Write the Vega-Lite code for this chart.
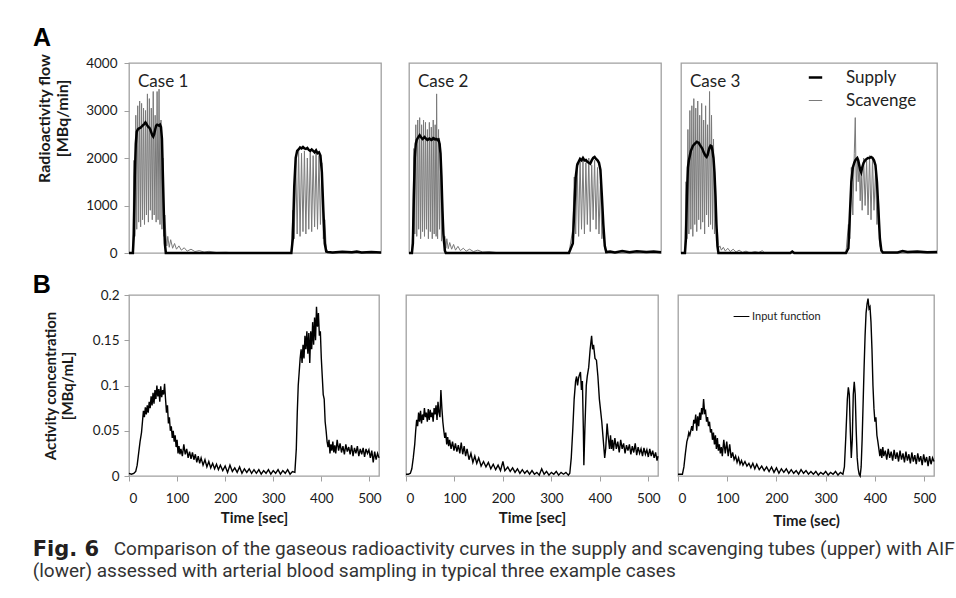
{
"$schema": "https://vega.github.io/schema/vega-lite/v6.json",
"background": "white",
"padding": {"left": 32, "top": 25, "right": 5, "bottom": 5},
"datasets": {
"top1": [{"t":0,"Supply":0,"Scavenge":0},{"t":8,"Supply":0,"Scavenge":0},{"t":10,"Supply":400,"Scavenge":1950},{"t":12,"Supply":1600,"Scavenge":350},{"t":14,"Supply":2300,"Scavenge":2900},{"t":16,"Supply":2550,"Scavenge":500},{"t":18,"Supply":2600,"Scavenge":3100},{"t":20,"Supply":2620,"Scavenge":650},{"t":22,"Supply":2630,"Scavenge":3200},{"t":24,"Supply":2640,"Scavenge":550},{"t":26,"Supply":2660,"Scavenge":3150},{"t":28,"Supply":2680,"Scavenge":700},{"t":30,"Supply":2700,"Scavenge":3050},{"t":32,"Supply":2720,"Scavenge":600},{"t":34,"Supply":2750,"Scavenge":3000},{"t":36,"Supply":2720,"Scavenge":800},{"t":38,"Supply":2680,"Scavenge":3350},{"t":40,"Supply":2650,"Scavenge":650},{"t":42,"Supply":2640,"Scavenge":3250},{"t":44,"Supply":2600,"Scavenge":900},{"t":46,"Supply":2540,"Scavenge":3050},{"t":48,"Supply":2480,"Scavenge":700},{"t":50,"Supply":2450,"Scavenge":3400},{"t":52,"Supply":2500,"Scavenge":800},{"t":54,"Supply":2600,"Scavenge":2900},{"t":56,"Supply":2680,"Scavenge":650},{"t":58,"Supply":2700,"Scavenge":3400},{"t":60,"Supply":2690,"Scavenge":700},{"t":62,"Supply":2680,"Scavenge":3450},{"t":64,"Supply":2700,"Scavenge":600},{"t":66,"Supply":2650,"Scavenge":2800},{"t":68,"Supply":2400,"Scavenge":500},{"t":70,"Supply":1600,"Scavenge":2000},{"t":72,"Supply":800,"Scavenge":350},{"t":74,"Supply":200,"Scavenge":800},{"t":76,"Supply":0,"Scavenge":400},{"t":78,"Supply":0,"Scavenge":150},{"t":80,"Supply":0,"Scavenge":350},{"t":83,"Supply":0,"Scavenge":120},{"t":86,"Supply":0,"Scavenge":280},{"t":90,"Supply":0,"Scavenge":100},{"t":94,"Supply":0,"Scavenge":200},{"t":98,"Supply":0,"Scavenge":80},{"t":103,"Supply":0,"Scavenge":150},{"t":108,"Supply":0,"Scavenge":60},{"t":114,"Supply":0,"Scavenge":110},{"t":120,"Supply":0,"Scavenge":40},{"t":128,"Supply":0,"Scavenge":80},{"t":136,"Supply":0,"Scavenge":30},{"t":145,"Supply":0,"Scavenge":50},{"t":155,"Supply":0,"Scavenge":20},{"t":165,"Supply":0,"Scavenge":35},{"t":180,"Supply":0,"Scavenge":10},{"t":200,"Supply":0,"Scavenge":15},{"t":220,"Supply":0,"Scavenge":0},{"t":335,"Supply":0,"Scavenge":0},{"t":338,"Supply":300,"Scavenge":900},{"t":341,"Supply":1400,"Scavenge":300},{"t":344,"Supply":2000,"Scavenge":2000},{"t":347,"Supply":2150,"Scavenge":400},{"t":350,"Supply":2180,"Scavenge":2150},{"t":353,"Supply":2220,"Scavenge":350},{"t":356,"Supply":2200,"Scavenge":2100},{"t":359,"Supply":2230,"Scavenge":450},{"t":362,"Supply":2200,"Scavenge":2150},{"t":365,"Supply":2190,"Scavenge":400},{"t":368,"Supply":2210,"Scavenge":2000},{"t":371,"Supply":2170,"Scavenge":500},{"t":374,"Supply":2150,"Scavenge":2150},{"t":377,"Supply":2180,"Scavenge":450},{"t":380,"Supply":2150,"Scavenge":2050},{"t":383,"Supply":2120,"Scavenge":550},{"t":386,"Supply":2160,"Scavenge":2100},{"t":389,"Supply":2100,"Scavenge":500},{"t":392,"Supply":2120,"Scavenge":2050},{"t":395,"Supply":2050,"Scavenge":600},{"t":398,"Supply":1700,"Scavenge":1900},{"t":401,"Supply":900,"Scavenge":300},{"t":404,"Supply":200,"Scavenge":700},{"t":407,"Supply":30,"Scavenge":100},{"t":410,"Supply":20,"Scavenge":20},{"t":420,"Supply":10,"Scavenge":0},{"t":440,"Supply":25,"Scavenge":5},{"t":460,"Supply":15,"Scavenge":0},{"t":470,"Supply":30,"Scavenge":0},{"t":480,"Supply":10,"Scavenge":0},{"t":500,"Supply":20,"Scavenge":0},{"t":520,"Supply":10,"Scavenge":0}],
"top2": [{"t":0,"Supply":0,"Scavenge":0},{"t":6,"Supply":0,"Scavenge":0},{"t":8,"Supply":200,"Scavenge":600},{"t":10,"Supply":1200,"Scavenge":2200},{"t":12,"Supply":2000,"Scavenge":400},{"t":14,"Supply":2300,"Scavenge":2700},{"t":16,"Supply":2380,"Scavenge":350},{"t":18,"Supply":2420,"Scavenge":2800},{"t":20,"Supply":2450,"Scavenge":500},{"t":22,"Supply":2480,"Scavenge":2850},{"t":24,"Supply":2450,"Scavenge":300},{"t":26,"Supply":2420,"Scavenge":2700},{"t":28,"Supply":2400,"Scavenge":450},{"t":30,"Supply":2420,"Scavenge":2800},{"t":32,"Supply":2440,"Scavenge":350},{"t":34,"Supply":2420,"Scavenge":2750},{"t":36,"Supply":2400,"Scavenge":500},{"t":38,"Supply":2380,"Scavenge":2600},{"t":40,"Supply":2390,"Scavenge":300},{"t":42,"Supply":2410,"Scavenge":2750},{"t":44,"Supply":2400,"Scavenge":450},{"t":46,"Supply":2380,"Scavenge":2650},{"t":48,"Supply":2390,"Scavenge":300},{"t":50,"Supply":2420,"Scavenge":2800},{"t":52,"Supply":2410,"Scavenge":400},{"t":54,"Supply":2390,"Scavenge":2700},{"t":56,"Supply":2400,"Scavenge":350},{"t":57,"Supply":2400,"Scavenge":3350},{"t":59,"Supply":2380,"Scavenge":300},{"t":61,"Supply":2390,"Scavenge":2600},{"t":63,"Supply":2300,"Scavenge":500},{"t":65,"Supply":2100,"Scavenge":2300},{"t":67,"Supply":1600,"Scavenge":250},{"t":69,"Supply":900,"Scavenge":1200},{"t":71,"Supply":400,"Scavenge":200},{"t":74,"Supply":50,"Scavenge":350},{"t":76,"Supply":0,"Scavenge":100},{"t":78,"Supply":0,"Scavenge":300},{"t":81,"Supply":0,"Scavenge":90},{"t":84,"Supply":0,"Scavenge":220},{"t":88,"Supply":0,"Scavenge":80},{"t":92,"Supply":0,"Scavenge":180},{"t":96,"Supply":0,"Scavenge":60},{"t":101,"Supply":0,"Scavenge":140},{"t":106,"Supply":0,"Scavenge":50},{"t":112,"Supply":0,"Scavenge":100},{"t":118,"Supply":0,"Scavenge":40},{"t":125,"Supply":0,"Scavenge":80},{"t":133,"Supply":0,"Scavenge":30},{"t":142,"Supply":0,"Scavenge":60},{"t":152,"Supply":0,"Scavenge":20},{"t":165,"Supply":0,"Scavenge":30},{"t":180,"Supply":0,"Scavenge":10},{"t":200,"Supply":0,"Scavenge":0},{"t":330,"Supply":0,"Scavenge":0},{"t":338,"Supply":200,"Scavenge":500},{"t":341,"Supply":900,"Scavenge":1600},{"t":344,"Supply":1600,"Scavenge":400},{"t":347,"Supply":1850,"Scavenge":1900},{"t":350,"Supply":1920,"Scavenge":350},{"t":353,"Supply":1980,"Scavenge":2000},{"t":356,"Supply":1950,"Scavenge":500},{"t":359,"Supply":2000,"Scavenge":1950},{"t":362,"Supply":1950,"Scavenge":400},{"t":365,"Supply":1960,"Scavenge":1900},{"t":368,"Supply":1920,"Scavenge":600},{"t":371,"Supply":1900,"Scavenge":2000},{"t":374,"Supply":1880,"Scavenge":450},{"t":377,"Supply":1950,"Scavenge":1850},{"t":380,"Supply":2000,"Scavenge":700},{"t":383,"Supply":2020,"Scavenge":1950},{"t":386,"Supply":1980,"Scavenge":500},{"t":389,"Supply":1950,"Scavenge":1800},{"t":392,"Supply":1900,"Scavenge":400},{"t":395,"Supply":1750,"Scavenge":1500},{"t":398,"Supply":1200,"Scavenge":300},{"t":401,"Supply":600,"Scavenge":600},{"t":404,"Supply":150,"Scavenge":100},{"t":407,"Supply":20,"Scavenge":0},{"t":415,"Supply":30,"Scavenge":0},{"t":425,"Supply":10,"Scavenge":0},{"t":440,"Supply":40,"Scavenge":0},{"t":455,"Supply":15,"Scavenge":0},{"t":470,"Supply":35,"Scavenge":0},{"t":490,"Supply":20,"Scavenge":0},{"t":505,"Supply":30,"Scavenge":0},{"t":520,"Supply":15,"Scavenge":0}],
"top3": [{"t":0,"Supply":0,"Scavenge":0},{"t":8,"Supply":0,"Scavenge":0},{"t":10,"Supply":300,"Scavenge":1500},{"t":12,"Supply":1200,"Scavenge":300},{"t":14,"Supply":1800,"Scavenge":2600},{"t":16,"Supply":1950,"Scavenge":400},{"t":18,"Supply":2050,"Scavenge":3000},{"t":20,"Supply":2150,"Scavenge":500},{"t":22,"Supply":2200,"Scavenge":3100},{"t":24,"Supply":2250,"Scavenge":350},{"t":26,"Supply":2280,"Scavenge":3250},{"t":28,"Supply":2300,"Scavenge":600},{"t":30,"Supply":2320,"Scavenge":3050},{"t":32,"Supply":2340,"Scavenge":450},{"t":34,"Supply":2330,"Scavenge":3200},{"t":36,"Supply":2320,"Scavenge":700},{"t":38,"Supply":2280,"Scavenge":2900},{"t":40,"Supply":2250,"Scavenge":500},{"t":42,"Supply":2220,"Scavenge":3150},{"t":44,"Supply":2180,"Scavenge":650},{"t":46,"Supply":2120,"Scavenge":2800},{"t":48,"Supply":2080,"Scavenge":400},{"t":50,"Supply":2040,"Scavenge":3100},{"t":52,"Supply":2020,"Scavenge":800},{"t":54,"Supply":2060,"Scavenge":2700},{"t":56,"Supply":2150,"Scavenge":550},{"t":58,"Supply":2220,"Scavenge":3400},{"t":60,"Supply":2260,"Scavenge":600},{"t":62,"Supply":2250,"Scavenge":2900},{"t":64,"Supply":2150,"Scavenge":500},{"t":66,"Supply":2000,"Scavenge":2400},{"t":68,"Supply":1700,"Scavenge":400},{"t":70,"Supply":1200,"Scavenge":1500},{"t":72,"Supply":600,"Scavenge":250},{"t":74,"Supply":150,"Scavenge":500},{"t":76,"Supply":0,"Scavenge":100},{"t":79,"Supply":0,"Scavenge":150},{"t":82,"Supply":0,"Scavenge":60},{"t":86,"Supply":0,"Scavenge":120},{"t":90,"Supply":0,"Scavenge":40},{"t":95,"Supply":0,"Scavenge":100},{"t":100,"Supply":0,"Scavenge":30},{"t":106,"Supply":0,"Scavenge":80},{"t":112,"Supply":0,"Scavenge":20},{"t":118,"Supply":0,"Scavenge":60},{"t":125,"Supply":0,"Scavenge":10},{"t":132,"Supply":0,"Scavenge":40},{"t":140,"Supply":0,"Scavenge":0},{"t":150,"Supply":0,"Scavenge":30},{"t":158,"Supply":0,"Scavenge":10},{"t":165,"Supply":0,"Scavenge":50},{"t":170,"Supply":0,"Scavenge":0},{"t":222,"Supply":0,"Scavenge":0},{"t":226,"Supply":30,"Scavenge":20},{"t":230,"Supply":0,"Scavenge":0},{"t":335,"Supply":0,"Scavenge":0},{"t":340,"Supply":100,"Scavenge":600},{"t":343,"Supply":800,"Scavenge":300},{"t":346,"Supply":1500,"Scavenge":1800},{"t":349,"Supply":1800,"Scavenge":800},{"t":352,"Supply":1900,"Scavenge":2100},{"t":354,"Supply":1950,"Scavenge":2850},{"t":356,"Supply":1980,"Scavenge":1300},{"t":358,"Supply":2000,"Scavenge":2000},{"t":360,"Supply":1950,"Scavenge":1500},{"t":362,"Supply":1850,"Scavenge":1900},{"t":364,"Supply":1750,"Scavenge":1100},{"t":366,"Supply":1700,"Scavenge":1800},{"t":368,"Supply":1800,"Scavenge":900},{"t":371,"Supply":1900,"Scavenge":2000},{"t":374,"Supply":1950,"Scavenge":1000},{"t":377,"Supply":1980,"Scavenge":1950},{"t":380,"Supply":2000,"Scavenge":800},{"t":383,"Supply":2000,"Scavenge":2050},{"t":386,"Supply":2020,"Scavenge":700},{"t":389,"Supply":2000,"Scavenge":2000},{"t":392,"Supply":1950,"Scavenge":900},{"t":395,"Supply":1850,"Scavenge":1700},{"t":398,"Supply":1500,"Scavenge":600},{"t":401,"Supply":900,"Scavenge":1200},{"t":404,"Supply":300,"Scavenge":150},{"t":407,"Supply":50,"Scavenge":50},{"t":410,"Supply":10,"Scavenge":0},{"t":440,"Supply":10,"Scavenge":0},{"t":450,"Supply":40,"Scavenge":0},{"t":460,"Supply":20,"Scavenge":0},{"t":480,"Supply":30,"Scavenge":0},{"t":500,"Supply":15,"Scavenge":0},{"t":520,"Supply":20,"Scavenge":0}],
"b1": [{"t":0,"v":0.003},{"t":5,"v":0.002},{"t":10,"v":0.003},{"t":14,"v":0.005},{"t":17,"v":0.012},{"t":20,"v":0.025},{"t":23,"v":0.038},{"t":26,"v":0.048},{"t":28,"v":0.06},{"t":30,"v":0.072},{"t":32,"v":0.065},{"t":34,"v":0.076},{"t":36,"v":0.068},{"t":38,"v":0.078},{"t":40,"v":0.07},{"t":42,"v":0.082},{"t":44,"v":0.075},{"t":46,"v":0.088},{"t":48,"v":0.078},{"t":50,"v":0.092},{"t":52,"v":0.08},{"t":54,"v":0.095},{"t":56,"v":0.085},{"t":58,"v":0.1},{"t":60,"v":0.088},{"t":62,"v":0.096},{"t":64,"v":0.082},{"t":66,"v":0.099},{"t":68,"v":0.087},{"t":70,"v":0.095},{"t":72,"v":0.09},{"t":74,"v":0.102},{"t":76,"v":0.085},{"t":78,"v":0.07},{"t":80,"v":0.078},{"t":82,"v":0.058},{"t":84,"v":0.065},{"t":86,"v":0.05},{"t":88,"v":0.055},{"t":90,"v":0.042},{"t":92,"v":0.05},{"t":94,"v":0.038},{"t":96,"v":0.045},{"t":98,"v":0.032},{"t":100,"v":0.04},{"t":102,"v":0.025},{"t":104,"v":0.033},{"t":106,"v":0.024},{"t":108,"v":0.03},{"t":111,"v":0.022},{"t":114,"v":0.035},{"t":117,"v":0.024},{"t":120,"v":0.03},{"t":123,"v":0.02},{"t":126,"v":0.027},{"t":129,"v":0.019},{"t":132,"v":0.026},{"t":135,"v":0.018},{"t":138,"v":0.024},{"t":141,"v":0.015},{"t":144,"v":0.022},{"t":147,"v":0.014},{"t":150,"v":0.02},{"t":154,"v":0.012},{"t":158,"v":0.018},{"t":162,"v":0.01},{"t":166,"v":0.016},{"t":170,"v":0.009},{"t":174,"v":0.014},{"t":178,"v":0.008},{"t":182,"v":0.013},{"t":186,"v":0.007},{"t":190,"v":0.012},{"t":195,"v":0.006},{"t":200,"v":0.011},{"t":205,"v":0.004},{"t":210,"v":0.012},{"t":215,"v":0.005},{"t":220,"v":0.009},{"t":225,"v":0.004},{"t":230,"v":0.01},{"t":235,"v":0.003},{"t":240,"v":0.008},{"t":245,"v":0.004},{"t":250,"v":0.008},{"t":255,"v":0.003},{"t":260,"v":0.007},{"t":265,"v":0.003},{"t":270,"v":0.007},{"t":275,"v":0.002},{"t":280,"v":0.006},{"t":285,"v":0.003},{"t":290,"v":0.007},{"t":295,"v":0.002},{"t":300,"v":0.006},{"t":305,"v":0.003},{"t":310,"v":0.007},{"t":315,"v":0.002},{"t":320,"v":0.006},{"t":325,"v":0.003},{"t":330,"v":0.007},{"t":335,"v":0.002},{"t":340,"v":0.005},{"t":345,"v":0.004},{"t":348,"v":0.03},{"t":350,"v":0.07},{"t":352,"v":0.1},{"t":354,"v":0.115},{"t":356,"v":0.13},{"t":358,"v":0.14},{"t":360,"v":0.125},{"t":362,"v":0.145},{"t":364,"v":0.13},{"t":366,"v":0.155},{"t":368,"v":0.14},{"t":370,"v":0.16},{"t":372,"v":0.135},{"t":374,"v":0.158},{"t":376,"v":0.125},{"t":378,"v":0.16},{"t":380,"v":0.14},{"t":382,"v":0.17},{"t":384,"v":0.145},{"t":386,"v":0.175},{"t":388,"v":0.15},{"t":390,"v":0.187},{"t":392,"v":0.165},{"t":394,"v":0.18},{"t":396,"v":0.155},{"t":398,"v":0.16},{"t":400,"v":0.13},{"t":402,"v":0.11},{"t":404,"v":0.09},{"t":406,"v":0.085},{"t":408,"v":0.06},{"t":410,"v":0.05},{"t":412,"v":0.038},{"t":414,"v":0.032},{"t":416,"v":0.04},{"t":418,"v":0.025},{"t":420,"v":0.035},{"t":422,"v":0.028},{"t":424,"v":0.038},{"t":426,"v":0.026},{"t":428,"v":0.034},{"t":430,"v":0.025},{"t":433,"v":0.04},{"t":436,"v":0.028},{"t":439,"v":0.036},{"t":442,"v":0.026},{"t":445,"v":0.033},{"t":448,"v":0.024},{"t":451,"v":0.035},{"t":454,"v":0.027},{"t":457,"v":0.032},{"t":460,"v":0.024},{"t":463,"v":0.034},{"t":466,"v":0.022},{"t":469,"v":0.031},{"t":472,"v":0.025},{"t":475,"v":0.033},{"t":478,"v":0.022},{"t":481,"v":0.03},{"t":484,"v":0.024},{"t":487,"v":0.031},{"t":490,"v":0.021},{"t":493,"v":0.03},{"t":496,"v":0.025},{"t":499,"v":0.029},{"t":502,"v":0.02},{"t":505,"v":0.028},{"t":508,"v":0.015},{"t":511,"v":0.027},{"t":514,"v":0.018},{"t":517,"v":0.025},{"t":520,"v":0.02}],
"b2": [{"t":0,"v":0.002},{"t":5,"v":0.002},{"t":9,"v":0.003},{"t":12,"v":0.008},{"t":15,"v":0.02},{"t":18,"v":0.035},{"t":20,"v":0.05},{"t":22,"v":0.062},{"t":24,"v":0.055},{"t":26,"v":0.07},{"t":28,"v":0.06},{"t":30,"v":0.072},{"t":32,"v":0.058},{"t":34,"v":0.068},{"t":36,"v":0.062},{"t":38,"v":0.075},{"t":40,"v":0.065},{"t":42,"v":0.07},{"t":44,"v":0.06},{"t":46,"v":0.074},{"t":48,"v":0.062},{"t":50,"v":0.073},{"t":52,"v":0.065},{"t":54,"v":0.07},{"t":56,"v":0.06},{"t":58,"v":0.075},{"t":60,"v":0.068},{"t":62,"v":0.078},{"t":64,"v":0.062},{"t":66,"v":0.082},{"t":68,"v":0.07},{"t":70,"v":0.065},{"t":72,"v":0.095},{"t":74,"v":0.075},{"t":76,"v":0.06},{"t":78,"v":0.05},{"t":80,"v":0.042},{"t":82,"v":0.048},{"t":84,"v":0.035},{"t":86,"v":0.043},{"t":88,"v":0.033},{"t":90,"v":0.04},{"t":93,"v":0.03},{"t":96,"v":0.038},{"t":99,"v":0.028},{"t":102,"v":0.036},{"t":105,"v":0.027},{"t":108,"v":0.034},{"t":111,"v":0.025},{"t":114,"v":0.037},{"t":117,"v":0.024},{"t":120,"v":0.033},{"t":123,"v":0.022},{"t":126,"v":0.03},{"t":130,"v":0.018},{"t":134,"v":0.025},{"t":138,"v":0.015},{"t":142,"v":0.022},{"t":146,"v":0.014},{"t":150,"v":0.02},{"t":155,"v":0.011},{"t":160,"v":0.016},{"t":165,"v":0.01},{"t":170,"v":0.015},{"t":175,"v":0.008},{"t":180,"v":0.013},{"t":185,"v":0.007},{"t":190,"v":0.012},{"t":195,"v":0.006},{"t":200,"v":0.016},{"t":204,"v":0.006},{"t":210,"v":0.01},{"t":215,"v":0.005},{"t":220,"v":0.009},{"t":225,"v":0.004},{"t":230,"v":0.008},{"t":235,"v":0.003},{"t":240,"v":0.007},{"t":245,"v":0.003},{"t":250,"v":0.006},{"t":255,"v":0.002},{"t":260,"v":0.006},{"t":265,"v":0.002},{"t":270,"v":0.004},{"t":275,"v":0.001},{"t":280,"v":0.008},{"t":285,"v":0.002},{"t":290,"v":0.005},{"t":295,"v":0.001},{"t":300,"v":0.004},{"t":305,"v":0.002},{"t":310,"v":0.005},{"t":315,"v":0.001},{"t":320,"v":0.004},{"t":325,"v":0.002},{"t":330,"v":0.004},{"t":335,"v":0.001},{"t":338,"v":0.003},{"t":341,"v":0.02},{"t":344,"v":0.05},{"t":347,"v":0.085},{"t":350,"v":0.105},{"t":352,"v":0.11},{"t":354,"v":0.1},{"t":356,"v":0.108},{"t":358,"v":0.112},{"t":360,"v":0.115},{"t":362,"v":0.095},{"t":364,"v":0.105},{"t":366,"v":0.05},{"t":367,"v":0.012},{"t":369,"v":0.05},{"t":372,"v":0.1},{"t":374,"v":0.11},{"t":377,"v":0.12},{"t":380,"v":0.14},{"t":383,"v":0.155},{"t":385,"v":0.14},{"t":387,"v":0.145},{"t":390,"v":0.13},{"t":393,"v":0.128},{"t":396,"v":0.11},{"t":399,"v":0.085},{"t":402,"v":0.07},{"t":404,"v":0.06},{"t":407,"v":0.04},{"t":410,"v":0.02},{"t":412,"v":0.03},{"t":415,"v":0.058},{"t":417,"v":0.045},{"t":420,"v":0.03},{"t":422,"v":0.045},{"t":424,"v":0.03},{"t":426,"v":0.04},{"t":428,"v":0.028},{"t":431,"v":0.042},{"t":434,"v":0.03},{"t":437,"v":0.038},{"t":440,"v":0.026},{"t":443,"v":0.04},{"t":446,"v":0.03},{"t":449,"v":0.036},{"t":452,"v":0.025},{"t":455,"v":0.034},{"t":458,"v":0.028},{"t":461,"v":0.035},{"t":464,"v":0.024},{"t":467,"v":0.033},{"t":470,"v":0.026},{"t":473,"v":0.036},{"t":476,"v":0.023},{"t":479,"v":0.032},{"t":482,"v":0.025},{"t":485,"v":0.03},{"t":488,"v":0.022},{"t":491,"v":0.031},{"t":494,"v":0.024},{"t":497,"v":0.029},{"t":500,"v":0.021},{"t":503,"v":0.03},{"t":506,"v":0.022},{"t":509,"v":0.028},{"t":512,"v":0.02},{"t":515,"v":0.026},{"t":518,"v":0.017},{"t":520,"v":0.022}],
"b3": [{"t":0,"v":0.002},{"t":5,"v":0.002},{"t":9,"v":0.002},{"t":12,"v":0.01},{"t":15,"v":0.025},{"t":18,"v":0.038},{"t":20,"v":0.042},{"t":22,"v":0.048},{"t":24,"v":0.045},{"t":26,"v":0.05},{"t":28,"v":0.055},{"t":30,"v":0.05},{"t":32,"v":0.062},{"t":34,"v":0.058},{"t":36,"v":0.068},{"t":38,"v":0.05},{"t":40,"v":0.066},{"t":42,"v":0.055},{"t":44,"v":0.07},{"t":46,"v":0.062},{"t":48,"v":0.075},{"t":50,"v":0.068},{"t":52,"v":0.085},{"t":54,"v":0.07},{"t":56,"v":0.072},{"t":58,"v":0.06},{"t":60,"v":0.065},{"t":62,"v":0.055},{"t":64,"v":0.06},{"t":66,"v":0.048},{"t":68,"v":0.052},{"t":70,"v":0.04},{"t":72,"v":0.048},{"t":74,"v":0.035},{"t":76,"v":0.045},{"t":78,"v":0.03},{"t":80,"v":0.042},{"t":82,"v":0.028},{"t":84,"v":0.035},{"t":86,"v":0.025},{"t":88,"v":0.032},{"t":90,"v":0.022},{"t":93,"v":0.04},{"t":96,"v":0.025},{"t":99,"v":0.038},{"t":102,"v":0.022},{"t":105,"v":0.035},{"t":108,"v":0.02},{"t":111,"v":0.026},{"t":114,"v":0.018},{"t":117,"v":0.022},{"t":120,"v":0.015},{"t":123,"v":0.02},{"t":126,"v":0.013},{"t":129,"v":0.017},{"t":132,"v":0.012},{"t":136,"v":0.016},{"t":140,"v":0.011},{"t":144,"v":0.014},{"t":148,"v":0.009},{"t":152,"v":0.014},{"t":156,"v":0.008},{"t":160,"v":0.013},{"t":165,"v":0.007},{"t":170,"v":0.011},{"t":175,"v":0.006},{"t":180,"v":0.01},{"t":185,"v":0.005},{"t":190,"v":0.01},{"t":195,"v":0.004},{"t":200,"v":0.009},{"t":205,"v":0.003},{"t":210,"v":0.008},{"t":215,"v":0.004},{"t":220,"v":0.008},{"t":225,"v":0.003},{"t":230,"v":0.007},{"t":235,"v":0.003},{"t":240,"v":0.006},{"t":245,"v":0.002},{"t":250,"v":0.007},{"t":255,"v":0.003},{"t":260,"v":0.006},{"t":265,"v":0.002},{"t":270,"v":0.005},{"t":275,"v":0.002},{"t":280,"v":0.005},{"t":285,"v":0.001},{"t":290,"v":0.004},{"t":295,"v":0.002},{"t":300,"v":0.005},{"t":305,"v":0.001},{"t":310,"v":0.004},{"t":315,"v":0.002},{"t":320,"v":0.005},{"t":325,"v":0.001},{"t":330,"v":0.004},{"t":335,"v":0.002},{"t":338,"v":0.01},{"t":341,"v":0.045},{"t":344,"v":0.085},{"t":346,"v":0.098},{"t":348,"v":0.09},{"t":350,"v":0.05},{"t":352,"v":0.02},{"t":354,"v":0.04},{"t":356,"v":0.09},{"t":358,"v":0.104},{"t":360,"v":0.09},{"t":362,"v":0.05},{"t":364,"v":0.02},{"t":366,"v":0.008},{"t":368,"v":0.002},{"t":370,"v":0.0},{"t":372,"v":0.01},{"t":374,"v":0.04},{"t":376,"v":0.08},{"t":378,"v":0.12},{"t":380,"v":0.155},{"t":382,"v":0.18},{"t":384,"v":0.19},{"t":386,"v":0.196},{"t":388,"v":0.185},{"t":390,"v":0.187},{"t":392,"v":0.17},{"t":394,"v":0.14},{"t":396,"v":0.1},{"t":398,"v":0.075},{"t":400,"v":0.06},{"t":402,"v":0.065},{"t":404,"v":0.045},{"t":406,"v":0.038},{"t":408,"v":0.03},{"t":410,"v":0.022},{"t":412,"v":0.03},{"t":414,"v":0.02},{"t":416,"v":0.032},{"t":418,"v":0.022},{"t":421,"v":0.028},{"t":424,"v":0.018},{"t":427,"v":0.03},{"t":430,"v":0.02},{"t":433,"v":0.027},{"t":436,"v":0.017},{"t":439,"v":0.029},{"t":442,"v":0.019},{"t":445,"v":0.026},{"t":448,"v":0.016},{"t":451,"v":0.028},{"t":454,"v":0.018},{"t":457,"v":0.025},{"t":460,"v":0.015},{"t":463,"v":0.027},{"t":466,"v":0.017},{"t":469,"v":0.024},{"t":472,"v":0.014},{"t":475,"v":0.026},{"t":478,"v":0.016},{"t":481,"v":0.023},{"t":484,"v":0.013},{"t":487,"v":0.025},{"t":490,"v":0.016},{"t":493,"v":0.022},{"t":496,"v":0.012},{"t":499,"v":0.024},{"t":502,"v":0.015},{"t":505,"v":0.021},{"t":508,"v":0.011},{"t":511,"v":0.022},{"t":514,"v":0.013},{"t":517,"v":0.02},{"t":520,"v":0.016}]
},
"title": {"text": "(lower) assessed with arterial blood sampling in typical three example cases", "orient": "bottom", "anchor": "start", "frame": "bounds", "offset": 2, "font": "Roboto", "fontSize": 19, "fontWeight": "normal", "color": "#333333"},
"resolve": {"scale": {"color": "independent", "strokeWidth": "independent"}},
"vconcat": [{
  "title": {"text": "Fig. 6", "orient": "bottom", "anchor": "start", "frame": "bounds", "offset": -20, "font": "DejaVu Sans", "fontSize": 21, "fontWeight": "bold", "color": "#231f20"},
  "resolve": {"scale": {"color": "independent", "strokeWidth": "independent"}},
  "vconcat": [{
    "title": {"text": "Comparison of the gaseous radioactivity curves in the supply and scavenging tubes (upper) with AIF", "orient": "bottom", "anchor": "start", "frame": "bounds", "offset": 11, "dx": 81, "font": "Roboto", "fontSize": 19, "fontWeight": "normal", "color": "#333333"},
    "resolve": {"scale": {"color": "independent", "strokeWidth": "independent"}},
    "spacing": 12,
    "vconcat": [
      {
        "title": {"text": "A", "orient": "top", "anchor": "start", "frame": "bounds", "offset": 2, "dx": -3, "font": "Liberation Sans", "fontSize": 25, "fontWeight": "bold", "color": "#000000"},
        "resolve": {"scale": {"color": "independent", "strokeWidth": "independent"}},
        "spacing": 8,
        "hconcat": [
          {
            "resolve": {"scale": {"color": "independent", "strokeWidth": "independent"}},
            "spacing": 16,
            "hconcat": [
              {
                "width": 252, "height": 190,
                "data": {"name": "top1"},
                "transform": [{"fold": ["Scavenge", "Supply"], "as": ["series", "v"]}],
                "layer": [
                  {"transform": [{"filter": "datum.series === 'Scavenge'"}], "mark": {"type": "line", "color": "#7a7a7a", "strokeWidth": 1},
                   "encoding": {"x": {"field": "t", "type": "quantitative", "scale": {"domain": [0, 520], "nice": false}, "axis": null},
                                "y": {"field": "v", "type": "quantitative", "scale": {"domain": [0, 4000], "nice": false}, "axis": {"values": [0, 1000, 2000, 3000, 4000], "format": "d", "title": ["Radioactivity flow", "[MBq/min]"], "titleFontSize": 16, "titleY": 55, "titlePadding": 15, "labelPadding": 7}}}},
                  {"transform": [{"filter": "datum.series === 'Supply'"}], "mark": {"type": "line", "color": "#000000", "strokeWidth": 2.5},
                   "encoding": {"x": {"field": "t", "type": "quantitative"}, "y": {"field": "v", "type": "quantitative"}}},
                  {"data": {"values": [{"label": "Case 1"}]}, "mark": {"type": "text", "align": "left", "baseline": "alphabetic", "dx": 9, "dy": 24, "font": "Lato", "fontSize": 17, "color": "#222222"},
                   "encoding": {"text": {"field": "label"}, "x": {"datum": 0}, "y": {"datum": 4000}}}
                ]
              },
              {
                "width": 252, "height": 190,
                "data": {"name": "top2"},
                "transform": [{"fold": ["Scavenge", "Supply"], "as": ["series", "v"]}],
                "layer": [
                  {"transform": [{"filter": "datum.series === 'Scavenge'"}], "mark": {"type": "line", "color": "#7a7a7a", "strokeWidth": 1},
                   "encoding": {"x": {"field": "t", "type": "quantitative", "scale": {"domain": [0, 520], "nice": false}, "axis": null},
                                "y": {"field": "v", "type": "quantitative", "scale": {"domain": [0, 4000], "nice": false}, "axis": null}}},
                  {"transform": [{"filter": "datum.series === 'Supply'"}], "mark": {"type": "line", "color": "#000000", "strokeWidth": 2.5},
                   "encoding": {"x": {"field": "t", "type": "quantitative"}, "y": {"field": "v", "type": "quantitative"}}},
                  {"data": {"values": [{"label": "Case 2"}]}, "mark": {"type": "text", "align": "left", "baseline": "alphabetic", "dx": 9, "dy": 24, "font": "Lato", "fontSize": 17, "color": "#222222"},
                   "encoding": {"text": {"field": "label"}, "x": {"datum": 0}, "y": {"datum": 4000}}}
                ]
              }
            ]
          },
          {
            "width": 256, "height": 190,
            "data": {"name": "top3"},
            "transform": [{"fold": ["Scavenge", "Supply"], "as": ["series", "v"]}],
            "layer": [
              {"transform": [{"filter": "datum.series === 'Scavenge'"}], "mark": {"type": "line"},
               "encoding": {"x": {"field": "t", "type": "quantitative", "scale": {"domain": [0, 520], "nice": false}, "axis": null},
                            "y": {"field": "v", "type": "quantitative", "scale": {"domain": [0, 4000], "nice": false}, "axis": null},
                            "color": {"field": "series", "type": "nominal", "scale": {"domain": ["Supply", "Scavenge"], "range": ["#000000", "#7a7a7a"]}, "legend": {"title": null, "orient": "none", "legendX": 126, "legendY": 6, "symbolType": "stroke", "symbolSize": 180, "labelFont": "Lato", "labelFontSize": 17, "labelColor": "#222222", "labelOffset": 22, "rowPadding": 5}},
                            "strokeWidth": {"field": "series", "type": "nominal", "scale": {"domain": ["Supply", "Scavenge"], "range": [2.5, 1]}, "legend": {"title": null, "orient": "none", "legendX": 126, "legendY": 6, "symbolType": "stroke", "symbolSize": 180, "labelFont": "Lato", "labelFontSize": 17, "labelColor": "#222222", "labelOffset": 22, "rowPadding": 5}}}},
              {"transform": [{"filter": "datum.series === 'Supply'"}], "mark": {"type": "line"},
               "encoding": {"x": {"field": "t", "type": "quantitative"}, "y": {"field": "v", "type": "quantitative"},
                            "color": {"field": "series", "type": "nominal"}, "strokeWidth": {"field": "series", "type": "nominal"}}},
              {"data": {"values": [{"label": "Case 3"}]}, "mark": {"type": "text", "align": "left", "baseline": "alphabetic", "dx": 9, "dy": 24, "font": "Lato", "fontSize": 17, "color": "#222222"},
               "encoding": {"text": {"field": "label"}, "x": {"datum": 0}, "y": {"datum": 4000}}}
            ]
          }
        ]
      },
      {
        "title": {"text": "B", "orient": "top", "anchor": "start", "frame": "bounds", "offset": -11, "dx": -10, "font": "Liberation Sans", "fontSize": 25, "fontWeight": "bold", "color": "#000000"},
        "resolve": {"scale": {"color": "independent", "strokeWidth": "independent"}},
        "spacing": 12,
        "hconcat": [
          {
            "resolve": {"scale": {"color": "independent", "strokeWidth": "independent"}},
            "spacing": 19,
            "hconcat": [
              {
                "width": 250, "height": 181,
                "data": {"name": "b1"},
                "mark": {"type": "line", "color": "#000000", "strokeWidth": 1.4},
                "encoding": {
                  "x": {"field": "t", "type": "quantitative", "scale": {"domain": [0, 520], "nice": false}, "axis": {"values": [0, 100, 200, 300, 400, 500], "title": "Time [sec]", "labelPadding": 10, "titlePadding": 6}},
                  "y": {"field": "v", "type": "quantitative", "scale": {"domain": [0, 0.2], "nice": false}, "axis": {"values": [0, 0.05, 0.1, 0.15, 0.2], "format": "~g", "title": ["Activity concentration", "[MBq/mL]"], "titlePadding": 17, "labelPadding": 5}}
                }
              },
              {
                "width": 252, "height": 181,
                "data": {"name": "b2"},
                "mark": {"type": "line", "color": "#000000", "strokeWidth": 1.4},
                "encoding": {
                  "x": {"field": "t", "type": "quantitative", "scale": {"domain": [0, 520], "nice": false}, "axis": {"values": [0, 100, 200, 300, 400, 500], "title": "Time [sec]", "labelPadding": 10, "titlePadding": 6}},
                  "y": {"field": "v", "type": "quantitative", "scale": {"domain": [0, 0.2], "nice": false}, "axis": null}
                }
              }
            ]
          },
          {
            "width": 256, "height": 181,
            "data": {"name": "b3"},
            "mark": {"type": "line", "strokeWidth": 1.4},
            "encoding": {
              "x": {"field": "t", "type": "quantitative", "scale": {"domain": [0, 520], "nice": false}, "axis": {"values": [0, 100, 200, 300, 400, 500], "title": "Time (sec)", "labelPadding": 10, "titlePadding": 9}},
              "y": {"field": "v", "type": "quantitative", "scale": {"domain": [0, 0.2], "nice": false}, "axis": null},
              "color": {"datum": "Input function", "type": "nominal", "scale": {"range": ["#000000"]}, "legend": {"title": null, "orient": "none", "legendX": 55, "legendY": 13, "symbolType": "stroke", "symbolSize": 250, "labelFont": "Lato", "labelFontSize": 11, "labelColor": "#222222", "labelOffset": 2, "encode": {"symbols": {"update": {"stroke": {"value": "#a0a0a0"}, "strokeWidth": {"value": 1}}}}}}
            }
          }
        ]
      }
    ]
  }]
}],
"config": {
  "view": {"stroke": "#a0a0a0", "strokeWidth": 1.3},
  "axis": {"domain": false, "grid": false, "ticks": true, "tickColor": "#a0a0a0", "tickSize": 5, "labelFont": "Lato", "labelFontSize": 13.5, "labelColor": "#1a1a1a", "titleFont": "Lato", "titleFontSize": 15, "titleFontWeight": "bold", "titleColor": "#1a1a1a"}
}
}
